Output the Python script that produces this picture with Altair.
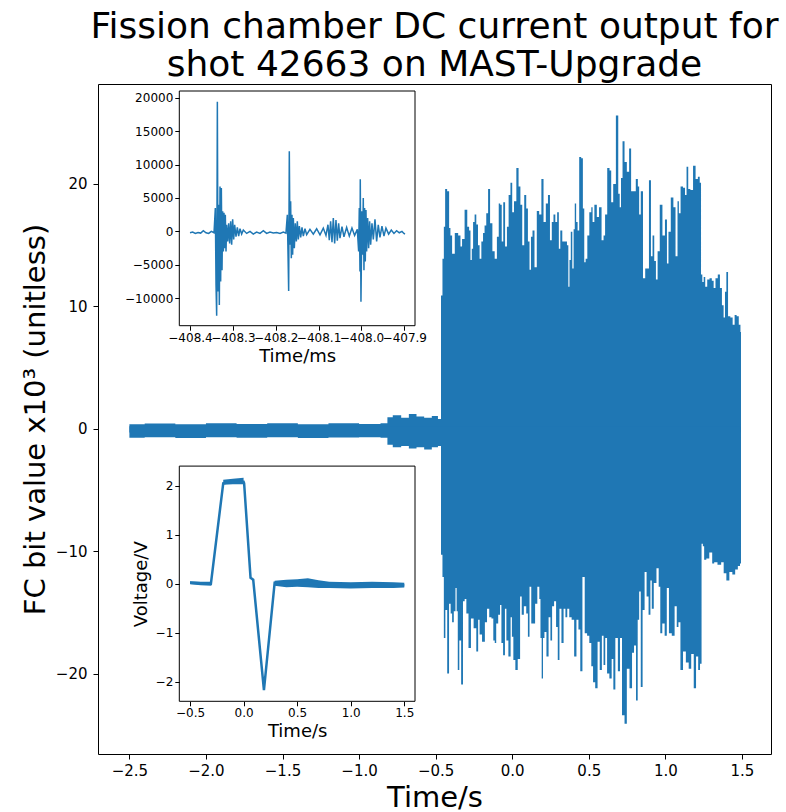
import altair as alt
import pandas as pd

BLUE = "#1f77b4"
FONT = "DejaVu Sans"

# ---------------- main signal (values in 10^3 counts) ----------------
up_t = [-2.5, -2.3, -2.1, -1.9, -1.7, -1.5, -1.3, -1.1, -0.9, -0.82, -0.81, -0.75, -0.70, -0.65, -0.60, -0.55, -0.50, -0.47,
        -0.460, -0.451, -0.442, -0.434, -0.416, -0.408, -0.399, -0.386, -0.364, -0.342, -0.334, -0.321, -0.301, -0.286,
        -0.277, -0.268, -0.260, -0.251, -0.240, -0.229, -0.218, -0.208, -0.195, -0.186, -0.175, -0.164, -0.151, -0.138,
        -0.121, -0.108, -0.092, -0.084, -0.073, -0.064, -0.053, -0.040, -0.029, -0.018, -0.005, 0.005, 0.018, 0.036,
        0.047, 0.060, 0.071, 0.086, 0.097, 0.108, 0.118, 0.127, 0.138, 0.153, 0.168, 0.184, 0.197, 0.212, 0.227, 0.240,
        0.253, 0.264, 0.275, 0.288, 0.299, 0.310, 0.318, 0.336, 0.353, 0.362, 0.371, 0.377, 0.388, 0.397, 0.405, 0.412,
        0.423, 0.431, 0.444, 0.457, 0.466, 0.475, 0.484, 0.497, 0.510, 0.523,
        0.527, 0.546, 0.559, 0.575, 0.592, 0.601, 0.612, 0.629, 0.642, 0.651, 0.668, 0.686, 0.699, 0.705, 0.716, 0.725,
        0.742, 0.755, 0.772, 0.781, 0.798, 0.816, 0.825, 0.833, 0.846, 0.862, 0.875, 0.885, 0.901, 0.911, 0.922, 0.933,
        0.944, 0.955, 0.972, 0.990, 1.005, 1.016, 1.025, 1.046, 1.059, 1.074, 1.085, 1.092, 1.107, 1.124, 1.133, 1.144,
        1.155, 1.172, 1.190, 1.205, 1.220, 1.229, 1.237, 1.246, 1.255, 1.266, 1.281, 1.296, 1.311, 1.320, 1.335, 1.350,
        1.363, 1.376, 1.385, 1.394, 1.403, 1.416, 1.433, 1.446, 1.459, 1.472, 1.487, 1.494]
up_v = [0.38, 0.44, 0.38, 0.45, 0.4, 0.45, 0.38, 0.45, 0.4, 0.45, 0.95, 1.1, 0.9, 1.2, 1.0, 0.9, 1.05, 0.8,
        10.9, 13.9, 16.5, 19.6, 19.4, 16.4, 15.8, 14.3, 16.0, 15.8, 14.9, 15.5, 17.9, 16.5,
        16.2, 13.8, 14.7, 16.9, 17.5, 16.7, 15.0, 13.9, 15.3, 16.0, 16.6, 17.6, 19.6, 16.8,
        14.5, 13.9, 15.7, 18.4, 18.3, 15.3, 18.5, 14.9, 16.5, 19.1, 20.1, 17.7, 18.6, 21.3,
        19.8, 18.3, 15.0, 19.1, 18.0, 15.3, 13.0, 15.7, 16.2, 13.2, 17.8, 17.5, 20.4, 16.9, 18.4, 19.1,
        15.4, 16.9, 17.5, 16.9, 17.7, 14.7, 16.2, 15.3, 15.3, 15.0, 11.6, 13.8, 16.1, 13.1, 16.3, 18.4,
        16.9, 16.2, 22.2, 22.1, 18.0, 13.6, 13.9, 15.8, 17.7, 18.1,
        16.9, 18.3, 17.3, 18.1, 15.4, 15.8, 17.5, 21.3, 21.1, 18.5, 20.0, 25.6, 19.2, 18.1, 20.5, 23.5,
        21.8, 21.0, 22.9, 19.4, 19.4, 20.4, 19.8, 17.5, 19.4, 12.3, 13.1, 13.1, 20.3, 14.1, 15.8, 13.7,
        12.2, 14.5, 18.3, 15.8, 17.1, 13.5, 16.1, 18.9, 18.1, 14.1, 18.6, 17.6, 19.8, 19.7, 19.1, 21.4,
        19.6, 19.5, 21.5, 20.4, 20.6, 20.1, 12.6, 12.0, 12.4, 11.6, 12.2, 12.3, 12.1, 11.5, 12.3, 12.6,
        11.5, 10.1, 9.1, 11.2, 12.8, 9.2, 9.1, 8.5, 9.3, 9.2, 8.5, 7.9]

lo_t = [-2.5, -2.3, -2.1, -1.9, -1.7, -1.5, -1.3, -1.1, -0.9, -0.82, -0.81, -0.75, -0.70, -0.65, -0.60, -0.55, -0.50, -0.47,
        -0.460, -0.451, -0.442, -0.431, -0.418, -0.407, -0.397, -0.388, -0.375, -0.366, -0.360, -0.351, -0.340, -0.327,
        -0.316, -0.305, -0.294, -0.277, -0.262, -0.242, -0.227, -0.218, -0.208, -0.186, -0.171, -0.158, -0.142, -0.129,
        -0.118, -0.110, -0.099, -0.084, -0.075, -0.066, -0.053, -0.042, -0.034, -0.016, -0.005, 0.001, 0.014, 0.027,
        0.045, 0.058, 0.066, 0.086, 0.097, 0.108, 0.118, 0.131, 0.144, 0.155, 0.173, 0.181, 0.188, 0.197, 0.205, 0.216,
        0.231, 0.244, 0.255, 0.266, 0.281, 0.292, 0.303, 0.314, 0.329, 0.342, 0.353, 0.366, 0.379, 0.397, 0.412, 0.427,
        0.438, 0.451, 0.466, 0.481, 0.497, 0.510, 0.523,
        0.533, 0.551, 0.564, 0.579, 0.592, 0.601, 0.614, 0.625, 0.644, 0.655, 0.666, 0.681, 0.699, 0.709, 0.725, 0.742,
        0.755, 0.777, 0.788, 0.803, 0.814, 0.825, 0.833, 0.846, 0.857, 0.872, 0.883, 0.898, 0.907, 0.916, 0.933, 0.951,
        0.962, 0.972, 0.988, 1.003, 1.016, 1.031, 1.053, 1.068, 1.081, 1.090, 1.107, 1.124, 1.144, 1.161, 1.177, 1.194,
        1.207, 1.222, 1.231, 1.242, 1.248, 1.259, 1.276, 1.298, 1.314, 1.324, 1.357, 1.372, 1.390, 1.407, 1.429, 1.446,
        1.466, 1.481, 1.494]
lo_v = [-0.74, -0.7, -0.76, -0.7, -0.74, -0.7, -0.76, -0.72, -0.7, -0.74, -1.3, -1.5, -1.4, -1.6, -1.5, -1.7, -1.5, -1.4,
        -10.3, -12.1, -17.1, -14.8, -20.0, -14.3, -15.1, -15.8, -14.9, -13.0, -14.9, -19.7, -17.3, -20.9,
        -14.1, -13.9, -15.1, -17.9, -15.5, -16.3, -18.2, -15.6, -16.8, -17.4, -15.8, -14.7, -15.4, -15.5,
        -17.3, -17.5, -15.9, -15.2, -14.4, -17.5, -18.5, -14.7, -17.3, -18.6, -15.4, -17.0, -18.9, -19.7,
        -18.8, -13.7, -15.2, -14.5, -15.1, -17.0, -12.9, -15.9, -15.9, -14.3, -12.9, -13.9, -17.1, -20.4, -17.1, -16.6,
        -18.6, -15.4, -17.3, -14.5, -14.1, -16.2, -18.9, -14.7, -17.5, -14.7, -15.4, -14.7, -15.4, -15.6, -18.6, -15.6,
        -16.4, -19.8, -12.1, -16.7, -16.9, -17.5, -19.4,
        -20.7, -21.2, -17.4, -19.7, -16.9, -19.3, -17.1, -20.0, -20.4, -18.8, -21.3, -17.1, -19.8, -17.1, -23.4, -24.1,
        -19.6, -21.2, -18.3, -17.7, -22.2, -15.6, -13.3, -21.1, -14.8, -11.7, -13.7, -15.2, -12.4, -14.7, -12.6, -11.4,
        -12.9, -16.7, -15.9, -16.9, -13.0, -16.7, -16.9, -14.5, -16.2, -15.8, -19.7, -18.2, -19.1, -19.6, -18.4, -21.2,
        -18.6, -19.7, -19.2, -9.4, -9.6, -10.7, -10.6, -10.1, -11.0, -10.9, -11.1, -10.9, -11.8, -12.4, -11.7, -11.9,
        -11.5, -11.2, -11.0]

# ---------------- inset 1: FC bit value vs time in ms ----------------
fc_ms = [-408.4000, -408.3938, -408.3876, -408.3813, -408.3751, -408.3689, -408.3627, -408.3565, -408.3502, -408.3440,
         -408.3409, -408.3393, -408.3378, -408.3362, -408.3347, -408.3331, -408.3316, -408.3300, -408.3285, -408.3269,
         -408.3253, -408.3238, -408.3222, -408.3207, -408.3191, -408.3176, -408.3160, -408.3145, -408.3121, -408.3098,
         -408.3075, -408.3051, -408.3028, -408.3005, -408.2981, -408.2958, -408.2927, -408.2896, -408.2865, -408.2834,
         -408.2795, -408.2756, -408.2678, -408.2600, -408.2523, -408.2445, -408.2367, -408.2289, -408.2212, -408.2134,
         -408.2056, -408.1978, -408.1900, -408.1823, -408.1761,
         -408.1729, -408.1714, -408.1698, -408.1683, -408.1667, -408.1652, -408.1636, -408.1621, -408.1605, -408.1589,
         -408.1566, -408.1543, -408.1519, -408.1496, -408.1473, -408.1449, -408.1418, -408.1387, -408.1356, -408.1317,
         -408.1278, -408.1201, -408.1123, -408.1045, -408.0967, -408.0890, -408.0827, -408.0781, -408.0750, -408.0719,
         -408.0687, -408.0656, -408.0625, -408.0594, -408.0563, -408.0532, -408.0501, -408.0454, -408.0408, -408.0345,
         -408.0283, -408.0221, -408.0159, -408.0096,
         -408.0065, -408.0050, -408.0034, -408.0027, -408.0011, -407.9988, -407.9972, -407.9957, -407.9941, -407.9926,
         -407.9910, -407.9894, -407.9879, -407.9855, -407.9832, -407.9809, -407.9785, -407.9754, -407.9723, -407.9684,
         -407.9645, -407.9607, -407.9568, -407.9521, -407.9474, -407.9428, -407.9365, -407.9303, -407.9241, -407.9179,
         -407.9117, -407.9054, -407.9008, -407.8984]
fc_val = [-200, -100, -300, -150, -250, 100, -200, -300, 0, -200,
          3500, -8000, -12600, 19400, -9000, 4000, -11000, 6700, -7500, 6500,
          -5800, 3000, -3000, 2800, -2500, 2500, -3000, 1000, -1500, 1200,
          -1800, 1500, -2000, 1800, -1200, 1000, -800, 600, -700, 400,
          -400, 200, -300, 0, -400, -100, -300, 100, -300, -100,
          -250, -150, -300, -100, -250,
          2500, -3000, -8900, 12000, -2000, 4500, -4000, 2500, -3500, 2000,
          -2500, 1200, -1500, 1500, -1200, 800, -900, 600, -700, 400,
          -500, 300, -400, 400, -500, 500, -600, 1000, -1300, 1500,
          -1600, 2000, -1800, 1700, -1400, 1200, -1000, 700, -800, 600,
          -700, 500, -600, 300,
          -3000, 3500, -6000, 7800, -10500, 3000, -3500, 5000, -5800, 3500,
          -4500, 3200, -3000, 2000, -2500, 1500, -2000, 1200, -1200, 1800,
          -1500, 1000, -900, 800, -700, 500, -400, 200, -300, 100,
          -200, 0, -300, -400]

# ---------------- inset 2: voltage vs time ----------------
volt_t = [-0.5, -0.305, -0.19, -0.1, 0.0, 0.005, 0.065, 0.09, 0.19, 0.29, 0.6, 1.0, 1.5]
volt_v = [0.02, 0.0, 2.05, 2.08, 2.08, 2.05, 0.12, 0.08, -2.17, 0.02, 0.02, -0.03, -0.03]
band_seg = ["a", "a", "a", "b", "b", "b", "c", "c", "c", "c", "c", "c", "c", "c", "c", "c"]
band_t = [-0.5, -0.4, -0.3, -0.19, -0.1, 0.0, 0.29, 0.4, 0.5, 0.6, 0.7, 0.8, 1.0, 1.2, 1.4, 1.5]
band_lo = [-0.01, -0.03, -0.04, 2.02, 2.03, 2.03, -0.04, -0.07, -0.06, -0.07, -0.09, -0.09, -0.1, -0.09, -0.09, -0.08]
band_hi = [0.05, 0.04, 0.04, 2.12, 2.14, 2.16, 0.06, 0.08, 0.09, 0.11, 0.07, 0.04, 0.03, 0.04, 0.03, 0.02]

# ---------------- layout constants ----------------
W, H = 673, 670
X_MAIN = [-2.705, 1.69]
Y_MAIN = [-26.57, 28.17]
X_IN1 = [-408.425, -407.875]
Y_IN1 = [-14100, 21000]
X_IN2 = [-0.6, 1.6]
Y_IN2 = [-2.4, 2.4]
IN_X_RANGE = [81.3, 317]
IN1_Y_RANGE = [241.7, 7.0]
IN2_Y_RANGE = [617.3, 382.1]

up_df = pd.DataFrame({"t": up_t, "v": up_v})
lo_df = pd.DataFrame({"t": lo_t, "v": lo_v})
fc_df = pd.DataFrame({"ms": fc_ms, "val": fc_val})
volt_df = pd.DataFrame({"t": volt_t, "v": volt_v})
band_df = pd.DataFrame({"seg": band_seg, "t": band_t, "lo": band_lo, "hi": band_hi})

# ---- main ----
xs_main = alt.Scale(domain=X_MAIN, nice=False, zero=False)
ys_main = alt.Scale(domain=Y_MAIN, nice=False, zero=False)
ax_main_x = alt.Axis(values=[-2.5, -2.0, -1.5, -1.0, -0.5, 0.0, 0.5, 1.0, 1.5], format=".1f", title="Time/s",
                     labelFontSize=15, titleFontSize=29, tickSize=5, labelPadding=4, titlePadding=5,
                     domain=False, grid=False, labelFlush=False, labelOverlap=False, orient="bottom")
ax_main_y = alt.Axis(values=[-20, -10, 0, 10, 20], format="d", title="FC bit value x10³ (unitless)",
                     labelFontSize=15, titleFontSize=29, tickSize=5, labelPadding=6, titlePadding=5,
                     domain=False, grid=False, labelOverlap=False, orient="left")

main_up = alt.Chart(up_df).mark_area(color=BLUE, interpolate="step", opacity=1).encode(
    x=alt.X("t:Q", scale=xs_main, axis=ax_main_x),
    y=alt.Y("v:Q", scale=ys_main, axis=ax_main_y),
    y2=alt.datum(-0.3),
)
main_lo = alt.Chart(lo_df).mark_area(color=BLUE, interpolate="step", opacity=1).encode(
    x=alt.X("t:Q", scale=xs_main, axis=ax_main_x),
    y=alt.Y("v:Q", scale=ys_main, axis=ax_main_y),
    y2=alt.datum(0.2),
)
main = alt.layer(main_up, main_lo)

# ---- inset 1 ----
xs1 = alt.Scale(domain=X_IN1, range=IN_X_RANGE, nice=False, zero=False)
ys1 = alt.Scale(domain=Y_IN1, range=IN1_Y_RANGE, nice=False, zero=False)
ax1_x = alt.Axis(values=[-408.4, -408.3, -408.2, -408.1, -408.0, -407.9], format=".1f", title="Time/ms",
                 labelFontSize=12, titleFontSize=18, tickSize=4.5, labelPadding=2, titlePadding=4,
                 domain=False, grid=False, labelFlush=False, labelOverlap=False, orient="bottom",
                 offset=-(H - IN1_Y_RANGE[0]), zindex=1)
ax1_y = alt.Axis(values=[-10000, -5000, 0, 5000, 10000, 15000, 20000], format="d", title=None,
                 labelFontSize=12, tickSize=4.5, labelPadding=2, domain=False, grid=False,
                 labelOverlap=False, orient="left", offset=-IN_X_RANGE[0], zindex=1)
in1_frame = alt.Chart(pd.DataFrame({"k": [0]})).mark_rect(fill="white", stroke="black", strokeWidth=1).encode(
    x=alt.datum(X_IN1[0], scale=xs1, axis=ax1_x, type="quantitative"),
    x2=alt.datum(X_IN1[1]),
    y=alt.datum(Y_IN1[0], scale=ys1, axis=ax1_y, type="quantitative"),
    y2=alt.datum(Y_IN1[1]),
)
in1_line = alt.Chart(fc_df).mark_line(color=BLUE, strokeWidth=1.5).encode(
    x=alt.X("ms:Q", scale=xs1, axis=ax1_x),
    y=alt.Y("val:Q", scale=ys1, axis=ax1_y),
)
inset1 = alt.layer(in1_frame, in1_line)

# ---- inset 2 ----
xs2 = alt.Scale(domain=X_IN2, range=IN_X_RANGE, nice=False, zero=False)
ys2 = alt.Scale(domain=Y_IN2, range=IN2_Y_RANGE, nice=False, zero=False)
ax2_x = alt.Axis(values=[-0.5, 0.0, 0.5, 1.0, 1.5], format=".1f", title="Time/s",
                 labelFontSize=12, titleFontSize=18, tickSize=4.5, labelPadding=2, titlePadding=4,
                 domain=False, grid=False, labelFlush=False, labelOverlap=False, orient="bottom",
                 offset=-(H - IN2_Y_RANGE[0]), zindex=1)
ax2_y = alt.Axis(values=[-2, -1, 0, 1, 2], format="d", title="Voltage/V",
                 labelFontSize=12, titleFontSize=18, tickSize=4.5, labelPadding=2, titlePadding=5,
                 domain=False, grid=False, labelOverlap=False, orient="left",
                 offset=-IN_X_RANGE[0], zindex=1)
in2_frame = alt.Chart(pd.DataFrame({"k": [0]})).mark_rect(fill="white", stroke="black", strokeWidth=1).encode(
    x=alt.datum(X_IN2[0], scale=xs2, axis=ax2_x, type="quantitative"),
    x2=alt.datum(X_IN2[1]),
    y=alt.datum(Y_IN2[0], scale=ys2, axis=ax2_y, type="quantitative"),
    y2=alt.datum(Y_IN2[1]),
)
in2_band = alt.Chart(band_df).mark_area(color=BLUE, opacity=1).encode(
    x=alt.X("t:Q", scale=xs2, axis=ax2_x),
    y=alt.Y("lo:Q", scale=ys2, axis=ax2_y),
    y2="hi:Q",
    detail="seg:N",
)
in2_line = alt.Chart(volt_df).mark_line(color=BLUE, strokeWidth=2.5).encode(
    x=alt.X("t:Q", scale=xs2, axis=ax2_x),
    y=alt.Y("v:Q", scale=ys2, axis=ax2_y),
)
inset2 = alt.layer(in2_frame, in2_band, in2_line)

chart = (
    alt.layer(main, inset1, inset2)
    .resolve_scale(x="independent", y="independent")
    .properties(
        width=W,
        height=H,
        padding={"left": 98, "top": 84, "right": 15, "bottom": 58},
        autosize=alt.AutoSizeParams(type="none"),
        title=alt.TitleParams(
            text=["Fission chamber DC current output for", "shot 42663 on MAST-Upgrade"],
            fontSize=36, font=FONT, fontWeight="normal", color="black",
            anchor="middle", frame="group", offset=0, lineHeight=38,
        ),
    )
    .configure_view(stroke="black", strokeWidth=1)
    .configure_axis(labelFont=FONT, titleFont=FONT, labelColor="black", titleColor="black",
                    tickColor="black", titleFontWeight="normal")
)

chart.save("out.html", embed_options={"renderer": "svg", "actions": False})
